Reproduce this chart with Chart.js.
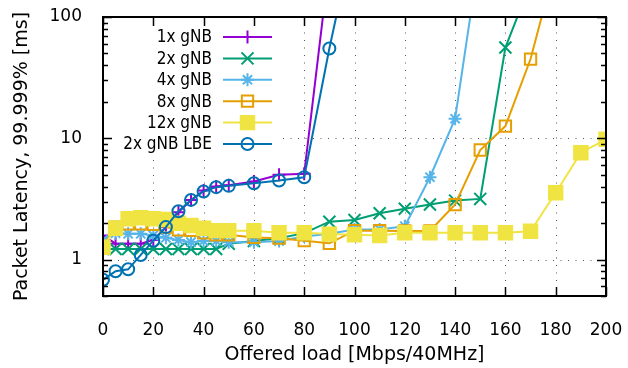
<!DOCTYPE html>
<html>
<head>
<meta charset="utf-8">
<script src="https://cdn.jsdelivr.net/npm/chart.js@4/dist/chart.umd.min.js"></script>
<style>
  html, body { margin: 0; padding: 0; background: #ffffff; }
  #wrap { width: 628px; height: 368px; position: relative; }
</style>
</head>
<body>
<div id="wrap"><canvas id="c" width="628" height="368"></canvas></div>
<script>
// ---- data ----
const load = [0, 5, 10, 15, 20, 25, 30, 35, 40, 45, 50, 60, 70, 80, 90, 100, 110, 120, 130, 140, 150, 160, 170, 180, 190, 200];
const seriesNames = ["1x gNB", "2x gNB", "4x gNB", "8x gNB", "12x gNB", "2x gNB LBE"];
const gnb1  = [1.58, 1.35, 1.35, 1.35, 1.45, 1.85, 2.45, 3.1, 3.7, 4.0, 4.1, 4.4, 5.0, 5.1, 280];
const gnb2  = [1.22, 1.22, 1.22, 1.22, 1.22, 1.22, 1.22, 1.22, 1.22, 1.22, 1.35, 1.42, 1.5, 1.65, 2.05, 2.12, 2.41, 2.62, 2.84, 3.06, 3.16, 56, 190];
const gnb4  = [1.45, 1.65, 1.63, 1.63, 1.58, 1.51, 1.45, 1.39, 1.42, 1.42, 1.39, 1.39, 1.42, 1.55, 1.63, 1.77, 1.77, 1.88, 4.77, 14.5, 360];
const gnb8  = [1.28, 1.85, 1.97, 1.97, 1.95, 1.85, 1.76, 1.74, 1.66, 1.6, 1.6, 1.52, 1.5, 1.43, 1.36, 1.73, 1.73, 1.72, 1.72, 2.84, 8.0, 12.6, 45, 275];
const gnb12 = [1.26, 1.81, 2.17, 2.21, 2.17, 2.14, 1.99, 1.91, 1.81, 1.73, 1.73, 1.73, 1.66, 1.66, 1.62, 1.6, 1.58, 1.66, 1.66, 1.66, 1.66, 1.66, 1.71, 3.55, 7.6, 9.8];
const gnbLBE = [0.68, 0.80, 0.83, 1.09, 1.43, 1.85, 2.5, 3.1, 3.64, 3.95, 4.05, 4.26, 4.48, 4.77, 55, 500];
const xTicks = [0, 20, 40, 60, 80, 100, 120, 140, 160, 180, 200];
const yTicks = [1, 10, 100];
const xTitle = "Offered load [Mbps/40MHz]";
const yTitle = "Packet Latency, 99.999% [ms]";

// ---- styles ----
const styles = [
  { color: "#9400d3", pointStyle: "cross",    radius: 6.5, fill: "#9400d3" },
  { color: "#009e73", pointStyle: "crossRot", radius: 8.5, fill: "#009e73" },
  { color: "#56b4e9", pointStyle: "star",     radius: 6.5, fill: "#56b4e9" },
  { color: "#e69f00", pointStyle: "rect",     radius: 8,   fill: "rgba(0,0,0,0)" },
  { color: "#f0e442", pointStyle: "rect",     radius: 9.5, fill: "#f0e442" },
  { color: "#0072b2", pointStyle: "circle",   radius: 6,   fill: "rgba(0,0,0,0)" }
];
const allSeries = [gnb1, gnb2, gnb4, gnb8, gnb12, gnbLBE];

function toPoints(arr) {
  const pts = [];
  for (let i = 0; i < arr.length; i++) {
    if (arr[i] != null) pts.push({ x: load[i], y: arr[i] });
  }
  return pts;
}

const datasets = allSeries.map((arr, i) => ({
  label: seriesNames[i],
  data: toPoints(arr),
  borderColor: styles[i].color,
  backgroundColor: styles[i].fill,
  borderWidth: 2,
  pointStyle: styles[i].pointStyle,
  pointRadius: styles[i].radius,
  pointBorderWidth: 2,
  pointBorderColor: styles[i].color,
  pointBackgroundColor: styles[i].fill,
  pointHoverRadius: styles[i].radius,
  tension: 0,
  fill: false,
  order: -i
}));

const AREA = { left: 103, right: 606, top: 17, bottom: 296 };
const LEGEND_BOX = { x1: 104, x2: 282, y1: 18, y2: 158 };

const framePlugin = {
  id: "gnuplotFrame",
  beforeDatasetsDraw(chart) {
    const ctx = chart.ctx;
    const xs = chart.scales.x, ys = chart.scales.y;
    const a = chart.chartArea;
    ctx.save();
    ctx.strokeStyle = "#555555";
    ctx.lineWidth = 1;
    ctx.setLineDash([1, 6.5]);
    xTicks.forEach(v => {
      if (v === 0 || v === 200) return;
      const px = Math.round(xs.getPixelForValue(v)) + 0.5;
      ctx.beginPath(); ctx.moveTo(px, a.bottom); ctx.lineTo(px, a.top); ctx.stroke();
    });
    yTicks.forEach(v => {
      if (v === 100) return;
      const py = Math.round(ys.getPixelForValue(v)) + 0.5;
      ctx.beginPath(); ctx.moveTo(a.left, py); ctx.lineTo(a.right, py); ctx.stroke();
    });
    ctx.setLineDash([]);
    // opaque key box
    ctx.fillStyle = "#ffffff";
    ctx.fillRect(LEGEND_BOX.x1, LEGEND_BOX.y1, LEGEND_BOX.x2 - LEGEND_BOX.x1, LEGEND_BOX.y2 - LEGEND_BOX.y1);
    ctx.restore();
  },
  afterDatasetsDraw(chart) {
    const ctx = chart.ctx;
    const xs = chart.scales.x, ys = chart.scales.y;
    const a = chart.chartArea;
    ctx.save();
    ctx.strokeStyle = "#000000";
    ctx.lineWidth = 1.5;
    // ticks
    ctx.beginPath();
    xTicks.forEach(v => {
      const px = Math.round(xs.getPixelForValue(v)) + 0.5;
      ctx.moveTo(px, a.bottom); ctx.lineTo(px, a.bottom - 9);
      ctx.moveTo(px, a.top); ctx.lineTo(px, a.top + 9);
    });
    const minors = [0.5, 0.6, 0.7, 0.8, 0.9, 2, 3, 4, 5, 6, 7, 8, 9, 20, 30, 40, 50, 60, 70, 80, 90];
    minors.forEach(v => {
      const py = Math.round(ys.getPixelForValue(v)) + 0.5;
      ctx.moveTo(a.left, py); ctx.lineTo(a.left + 5, py);
      ctx.moveTo(a.right, py); ctx.lineTo(a.right - 5, py);
    });
    yTicks.forEach(v => {
      const py = Math.round(ys.getPixelForValue(v)) + 0.5;
      ctx.moveTo(a.left, py); ctx.lineTo(a.left + 9, py);
      ctx.moveTo(a.right, py); ctx.lineTo(a.right - 9, py);
    });
    ctx.stroke();
    // frame
    ctx.lineWidth = 2;
    ctx.strokeRect(a.left, a.top, a.right - a.left, a.bottom - a.top);

    // key
    const rowY0 = 37, rowStep = 21.4;
    ctx.font = "17px 'DejaVu Sans Condensed', 'DejaVu Sans', sans-serif";
    ctx.textAlign = "right";
    ctx.textBaseline = "middle";
    chart.data.datasets.forEach((ds, i) => {
      const y = rowY0 + i * rowStep;
      ctx.fillStyle = "#000000";
      ctx.fillText(ds.label, 212, y + 1);
      ctx.strokeStyle = ds.borderColor;
      ctx.lineWidth = 2;
      ctx.beginPath(); ctx.moveTo(223, y); ctx.lineTo(272, y); ctx.stroke();
      ctx.fillStyle = ds.pointBackgroundColor;
      ctx.strokeStyle = ds.pointBorderColor;
      ctx.lineWidth = 2;
      Chart.helpers.drawPoint(ctx, {
        pointStyle: ds.pointStyle, radius: ds.pointRadius, rotation: 0, borderWidth: 2
      }, 247.5, y);
    });
    ctx.restore();
  }
};

new Chart(document.getElementById("c"), {
  type: "line",
  data: { datasets },
  options: {
    responsive: false,
    animation: false,
    maintainAspectRatio: false,
    layout: { padding: { top: AREA.top, right: 628 - AREA.right, left: 0, bottom: 0 } },
    plugins: { legend: { display: false }, tooltip: { enabled: false } },
    scales: {
      x: {
        type: "linear",
        min: 0, max: 200,
        grid: { display: false },
        border: { display: false },
        afterBuildTicks(scale) { scale.ticks = xTicks.map(v => ({ value: v })); },
        afterFit(scale) {
          scale.height = 368 - AREA.bottom;
          scale.paddingLeft = 0; scale.paddingRight = 0;
        },
        ticks: {
          color: "#000", padding: 16, maxRotation: 0, autoSkip: false,
          font: { family: "'DejaVu Sans', sans-serif", size: 17 }
        },
        title: {
          display: true, text: xTitle, color: "#000",
          font: { family: "'DejaVu Sans', sans-serif", size: 19 },
          padding: { top: 0, bottom: 2 }
        }
      },
      y: {
        type: "logarithmic",
        min: 0.5, max: 100,
        grid: { display: false },
        border: { display: false },
        afterBuildTicks(scale) { scale.ticks = yTicks.map(v => ({ value: v })); },
        afterFit(scale) {
          scale.width = AREA.left;
          scale.paddingTop = 0; scale.paddingBottom = 0;
        },
        ticks: {
          color: "#000", padding: 13, autoSkip: false,
          font: { family: "'DejaVu Sans', sans-serif", size: 17 },
          callback: (v) => String(v)
        },
        title: {
          display: true, text: yTitle, color: "#000",
          font: { family: "'DejaVu Sans', sans-serif", size: 19 },
          padding: { top: 10.5, bottom: 0 }
        }
      }
    }
  },
  plugins: [framePlugin]
});
</script>
</body>
</html>
